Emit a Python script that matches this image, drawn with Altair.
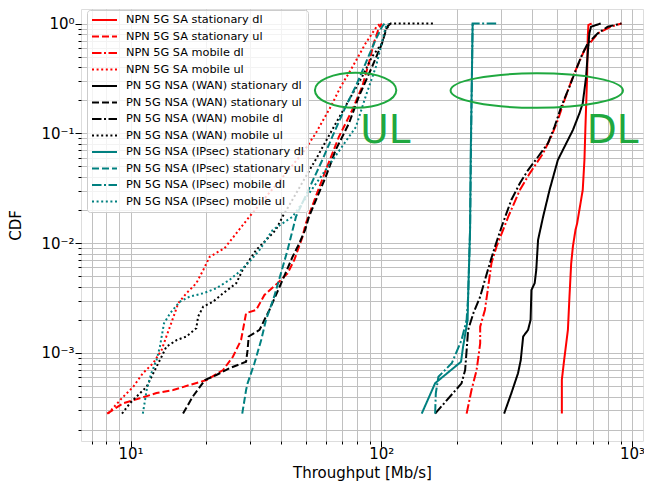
import altair as alt
import pandas as pd

# ---------------- data ----------------
SERIES = [
    "NPN 5G SA stationary dl",
    "NPN 5G SA stationary ul",
    "NPN 5G SA mobile dl",
    "NPN 5G SA mobile ul",
    "PN 5G NSA (WAN) stationary dl",
    "PN 5G NSA (WAN) stationary ul",
    "PN 5G NSA (WAN) mobile dl",
    "PN 5G NSA (WAN) mobile ul",
    "PN 5G NSA (IPsec) stationary dl",
    "PN 5G NSA (IPsec) stationary ul",
    "PN 5G NSA (IPsec) mobile dl",
    "PN 5G NSA (IPsec) mobile ul",
]

npn_stat_dl_x = [525, 525, 538, 555, 563, 572, 581, 595, 604, 636, 646, 652, 662, 666, 670, 690]
npn_stat_dl_y = [2.8e-4, 5.7e-4, 9.2e-4, 1.62e-3, 3.25e-3, 6.55e-3, 9.3e-3, 0.0132, 0.0151, 0.0305,
                 0.0571, 0.115, 0.328, 0.758, 0.969, 1.0]

npn_stat_ul_x = [8.07, 9.36, 10.9, 12.7, 14.8, 17.2, 20.1, 23.4, 25.6, 27.6, 28.9, 31.7, 34.2, 38.6,
                 42.3, 45.0, 48.5, 50.0, 54.8, 60.1, 67.8, 76.6, 83.9, 89.2, 93.3, 97.7, 100.5]
npn_stat_ul_y = [2.8e-4, 3.48e-4, 3.86e-4, 4.31e-4, 4.59e-4, 5.1e-4, 5.66e-4, 6.98e-4, 9.23e-4, 1.31e-3,
                 2.30e-3, 2.46e-3, 3.37e-3, 4.31e-3, 5.31e-3, 7.02e-3, 0.0114, 0.0151, 0.0265, 0.0463,
                 0.0931, 0.163, 0.266, 0.434, 0.660, 0.904, 1.0]

npn_mob_dl_x = [219, 229, 240, 248, 248, 259, 267, 275, 288, 321, 357, 391, 442, 476, 506, 538, 581,
                646, 730, 824, 908]
npn_mob_dl_y = [2.8e-4, 4.59e-4, 6.98e-4, 1.22e-3, 1.73e-3, 2.46e-3, 4.01e-3, 6.55e-3, 9.27e-3, 0.0174,
                0.0305, 0.0432, 0.0657, 0.0931, 0.132, 0.201, 0.328, 0.574, 0.814, 0.935, 1.0]

npn_mob_ul_x = [8.14, 9.23, 10.26, 11.2, 12.3, 13.3, 13.9, 14.6, 15.5, 16.7, 18.3, 19.5, 20.7, 23.7,
                29.8, 48.5, 54.8, 62.9, 68.9, 75.5, 86.6, 96.2, 99.6]
npn_mob_ul_y = [2.8e-4, 3.86e-4, 4.92e-4, 6.52e-4, 8.04e-4, 1.06e-3, 1.41e-3, 1.92e-3, 2.83e-3, 3.49e-3,
                4.31e-3, 5.69e-3, 7.52e-3, 8.97e-3, 0.0174, 0.0657, 0.100, 0.175, 0.266, 0.377,
                0.660, 0.949, 1.0]

wan_stat_dl_x = [309, 330, 351, 360, 368, 385, 394, 397, 409, 415, 422, 442, 469, 506, 538, 581, 617,
                 636, 656, 666, 676, 686, 750]
wan_stat_dl_y = [2.8e-4, 4.28e-4, 6.52e-4, 8.61e-4, 1.41e-3, 1.62e-3, 2.00e-3, 3.74e-3, 4.31e-3, 5.69e-3,
                 0.0107, 0.0174, 0.0305, 0.0571, 0.0755, 0.107, 0.152, 0.188, 0.328, 0.535, 0.814,
                 0.935, 1.0]

wan_stat_ul_x = [16.2, 17.7, 19.8, 22.0, 24.8, 28.9, 29.3, 29.6, 32.7, 34.7, 35.8, 40.4, 44.3, 47.1,
                 49.7, 51.5, 60.1, 65.8, 74.3, 81.4, 91.9, 100.7, 105.4, 109]
wan_stat_ul_y = [2.8e-4, 3.99e-4, 5.66e-4, 6.29e-4, 7.24e-4, 8.32e-4, 1.06e-3, 1.41e-3, 1.62e-3, 2.14e-3,
                 2.46e-3, 4.61e-3, 7.52e-3, 9.95e-3, 0.0132, 0.0174, 0.0403, 0.0705, 0.123, 0.216,
                 0.404, 0.660, 0.935, 1.0]

wan_mob_dl_x = [164, 209, 216, 219, 222, 233, 248, 259, 271, 284, 302, 330, 357, 385, 422, 462, 491,
                522, 563, 590, 627, 666, 730, 800, 908]
wan_mob_dl_y = [2.8e-4, 5.28e-4, 6.98e-4, 1.06e-3, 1.62e-3, 2.30e-3, 3.25e-3, 4.61e-3, 6.55e-3, 9.27e-3,
                0.0141, 0.0247, 0.0351, 0.0463, 0.0612, 0.0811, 0.115, 0.175, 0.266, 0.352, 0.499,
                0.660, 0.814, 0.935, 1.0]

wan_mob_ul_x = [9.25, 9.95, 10.9, 11.6, 11.95, 12.7, 13.3, 13.9, 15.3, 16.7, 18.3, 18.6, 19.5, 21.3,
                23.4, 26.4, 28.0, 29.8, 31.7, 33.7, 38.0, 40.4, 55.6, 65.8, 74.3, 83.9, 91.9, 100.7,
                104, 109, 163]
wan_mob_ul_y = [2.8e-4, 3.48e-4, 4.28e-4, 4.92e-4, 5.66e-4, 7.49e-4, 9.23e-4, 1.14e-3, 1.31e-3, 1.41e-3,
                1.68e-3, 2.14e-3, 2.64e-3, 2.92e-3, 3.49e-3, 4.31e-3, 5.69e-3, 7.02e-3, 8.65e-3, 9.95e-3,
                0.0132, 0.0174, 0.0612, 0.123, 0.201, 0.328, 0.499, 0.660, 0.872, 0.9997, 1.0]

ips_stat_dl_x = [145, 164, 208, 212, 221, 222, 226, 227.5, 229.7, 231.4]
ips_stat_dl_y = [2.8e-4, 5.3e-4, 8.3e-4, 1.14e-3, 2.00e-3, 3.25e-3, 0.0132, 0.0705, 0.306, 1.0]

ips_stat_ul_x = [27.9, 28.9, 29.3, 31.2, 33.2, 34.7, 37.4, 39.8, 42.3, 45.7, 58.2, 63.8, 72.1, 79.0,
                 86.6, 94.8, 100.7, 103]
ips_stat_ul_y = [2.8e-4, 4.59e-4, 5.28e-4, 8.04e-4, 1.31e-3, 2.00e-3, 3.25e-3, 5.31e-3, 8.65e-3, 0.0174,
                 0.0571, 0.0931, 0.175, 0.266, 0.434, 0.707, 0.935, 1.0]

ips_mob_dl_x = [164, 165, 169, 191, 209, 219, 222, 226, 228.6, 231.4, 294]
ips_mob_dl_y = [2.8e-4, 4.28e-4, 6.07e-4, 8.04e-4, 1.31e-3, 2.00e-3, 3.25e-3, 0.0132, 0.132, 0.9997, 1.0]

ips_mob_ul_x = [11.2, 11.6, 12.1, 12.7, 13.1, 13.6, 14.4, 15.7, 17.2, 18.3, 19.5, 22.0, 24.8, 27.2,
                29.8, 32.7, 36.9, 44.3, 79.2, 86.6, 95.1, 104.2, 107.1]
ips_mob_ul_y = [2.8e-4, 4.59e-4, 6.52e-4, 8.61e-4, 1.14e-3, 1.86e-3, 2.30e-3, 2.92e-3, 3.25e-3, 3.37e-3,
                3.49e-3, 3.88e-3, 4.61e-3, 5.49e-3, 6.77e-3, 8.65e-3, 0.0132, 0.0174, 0.114, 0.216,
                0.402, 0.929, 1.0]

CURVES = [
    (npn_stat_dl_x, npn_stat_dl_y), (npn_stat_ul_x, npn_stat_ul_y),
    (npn_mob_dl_x, npn_mob_dl_y), (npn_mob_ul_x, npn_mob_ul_y),
    (wan_stat_dl_x, wan_stat_dl_y), (wan_stat_ul_x, wan_stat_ul_y),
    (wan_mob_dl_x, wan_mob_dl_y), (wan_mob_ul_x, wan_mob_ul_y),
    (ips_stat_dl_x, ips_stat_dl_y), (ips_stat_ul_x, ips_stat_ul_y),
    (ips_mob_dl_x, ips_mob_dl_y), (ips_mob_ul_x, ips_mob_ul_y),
]

ANNOT_LABELS = ["UL", "DL"]
ANNOT_X = [82.5, 660]
ANNOT_Y = [0.0816, 0.0816]
ELLIPSE_X = [79.0, 417]
ELLIPSE_Y = [0.247, 0.245]

# ---------------- styling ----------------
COLORS = ["#ff0000"] * 4 + ["#000000"] * 4 + ["#008080"] * 4
DASHES = [[1, 0], [7, 3], [9.5, 2.5, 2, 2.5], [2, 2.6]] * 3
GREEN = "#1fa83f"
GRID = "#c0c0c0"
FONT = "DejaVu Sans"

rows = []
for name, (xs, ys) in zip(SERIES, CURVES):
    for i, (xv, yv) in enumerate(zip(xs, ys)):
        rows.append({"series": name, "thr": xv, "cdf": yv, "idx": i})
df = pd.DataFrame(rows)

X_MIN, X_MAX = 6.347, 1106
Y_MIN, Y_MAX = 1.576e-4, 1.356
xscale = alt.Scale(type="log", domain=[X_MIN, X_MAX], nice=False)
yscale = alt.Scale(type="log", domain=[Y_MIN, Y_MAX], nice=False)

x_ticks = [m * 10 ** e for e in (0, 1, 2) for m in range(1, 10) if X_MIN <= m * 10 ** e] + [1000]
y_ticks = [round(m * 10.0 ** e, 10) for e in (-4, -3, -2, -1) for m in range(1, 10)
           if m * 10.0 ** e >= Y_MIN] + [1.0]

SUP = {-3: "⁻³", -2: "⁻²", -1: "⁻¹", 0: "⁰", 1: "¹", 2: "²", 3: "³"}
EXP = "round(log(datum.value)/LN10)"
chain = " : ".join(f"{EXP} == {k} ? '10{v}'" for k, v in SUP.items()) + " : ''"
LABEL_EXPR = f"abs(log(datum.value)/LN10 - {EXP}) < 0.000001 ? ({chain}) : ''"

x_axis_main = alt.Axis(values=x_ticks, grid=True, gridColor=GRID, gridWidth=1, tickSize=3,
                       tickColor="black", domain=False, labelExpr=LABEL_EXPR, labelFontSize=15,
                       labelPadding=2, labelFont=FONT, labelColor="black", labelOverlap=False,
                       labelFlush=False, title="Throughput [Mb/s]", titleFont=FONT,
                       titleFontSize=15, titleFontWeight="normal", titleColor="black",
                       titleY=36, titleBaseline="alphabetic", orient="bottom")
y_axis_main = alt.Axis(values=y_ticks, grid=True, gridColor=GRID, gridWidth=1, tickSize=3,
                       tickColor="black", domain=False, labelExpr=LABEL_EXPR, labelFontSize=15,
                       labelPadding=4, labelFont=FONT, labelColor="black", labelOverlap=False,
                       labelFlush=False, title="CDF", titleFont=FONT, titleFontSize=15,
                       titleFontWeight="normal", titleColor="black", titleX=-61,
                       titleBaseline="alphabetic", orient="left")
x_axis_major = alt.Axis(values=[10, 100, 1000], grid=False, tickSize=6, tickColor="black",
                        domain=False, labels=False, title=None, orient="bottom")
y_axis_major = alt.Axis(values=[0.001, 0.01, 0.1, 1.0], grid=False, tickSize=6, tickColor="black",
                        domain=False, labels=False, title=None, orient="left")

legend = alt.Legend(title=None, orient="none", legendX=6, legendY=1, padding=4,
                    symbolType="stroke", symbolSize=625, symbolStrokeWidth=2, clipHeight=12,
                    rowPadding=4.5, labelFont=FONT, labelFontSize=11.3, labelColor="black",
                    labelOffset=8, labelLimit=400, fillColor="rgba(255,255,255,0.8)",
                    strokeColor="#cccccc", cornerRadius=3)

lines = alt.Chart(df).mark_line(strokeWidth=2, clip=True).encode(
    x=alt.X("thr:Q", scale=xscale, axis=x_axis_main),
    y=alt.Y("cdf:Q", scale=yscale, axis=y_axis_main),
    color=alt.Color("series:N", scale=alt.Scale(domain=SERIES, range=COLORS), legend=legend),
    strokeDash=alt.StrokeDash("series:N", scale=alt.Scale(domain=SERIES, range=DASHES), legend=legend),
    order=alt.Order("idx:Q"),
)


def ellipse_path(r, k=0.5523):
    return (f"M-1,0C-1,{-r * k:.4f} {-k},{-r:.4f} 0,{-r:.4f}C{k},{-r:.4f} 1,{-r * k:.4f} 1,0"
            f"C1,{r * k:.4f} {k},{r:.4f} 0,{r:.4f}C{-k},{r:.4f} -1,{r * k:.4f} -1,0Z")


ell_df = pd.DataFrame({"thr": ELLIPSE_X, "cdf": ELLIPSE_Y, "label": ANNOT_LABELS})

ell_ul = alt.Chart(ell_df[ell_df.label == "UL"]).mark_point(
    shape=ellipse_path(0.43), size=81.4 ** 2, filled=False, stroke=GREEN, color=GREEN,
    strokeWidth=2, opacity=1, clip=True
).encode(
    x=alt.X("thr:Q", scale=xscale, axis=x_axis_major),
    y=alt.Y("cdf:Q", scale=yscale, axis=y_axis_major),
)
ell_dl = alt.Chart(ell_df[ell_df.label == "DL"]).mark_point(
    shape=ellipse_path(0.2), size=172.4 ** 2, filled=False, stroke=GREEN, color=GREEN,
    strokeWidth=2, opacity=1, clip=True
).encode(
    x=alt.X("thr:Q", scale=xscale, axis=None),
    y=alt.Y("cdf:Q", scale=yscale, axis=None),
)

txt_df = pd.DataFrame({"thr": ANNOT_X, "cdf": ANNOT_Y, "label": ANNOT_LABELS})
texts = alt.Chart(txt_df).mark_text(
    align="left", baseline="alphabetic", fontSize=39, font=FONT, color=GREEN
).encode(
    x=alt.X("thr:Q", scale=xscale, axis=None),
    y=alt.Y("cdf:Q", scale=yscale, axis=None),
    text="label:N",
)

chart = alt.layer(lines, ell_ul, ell_dl, texts).resolve_axis(
    x="independent", y="independent"
).properties(
    width=562, height=432,
    autosize=alt.AutoSizeParams(type="none"),
    padding={"left": 73, "top": 1, "right": 1, "bottom": 40},
).configure_view(stroke="black", strokeWidth=1).configure(background="white")

chart.save("out.html", embed_options={"renderer": "svg", "actions": False})
